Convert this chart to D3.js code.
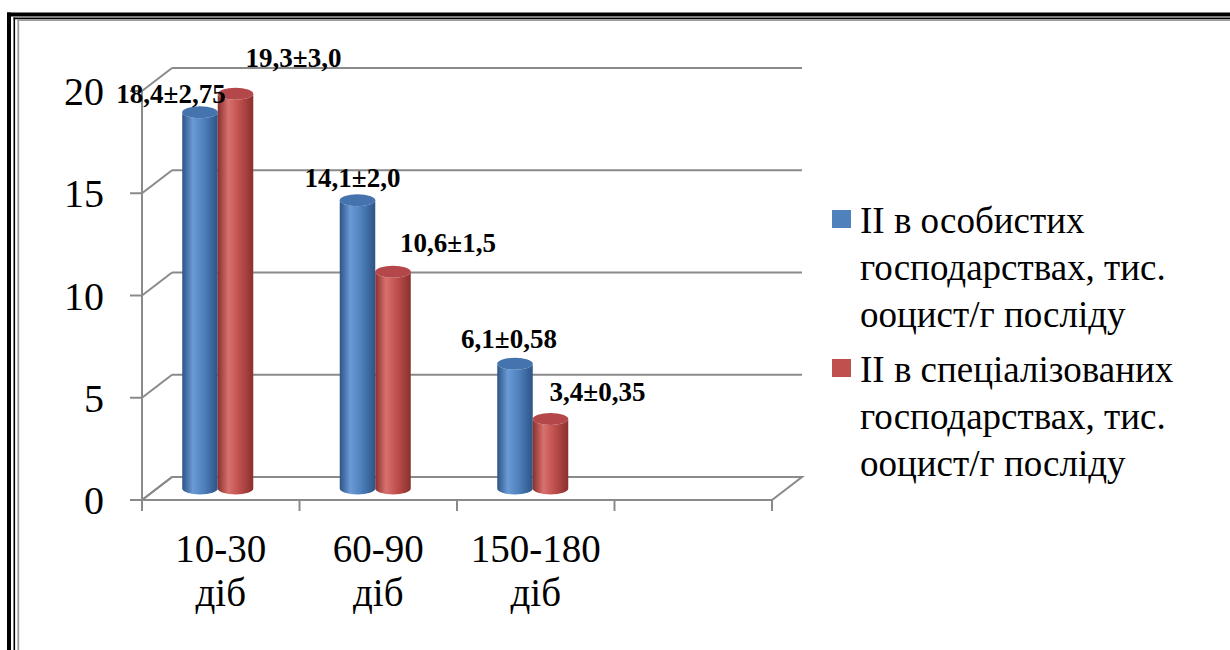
<!DOCTYPE html>
<html>
<head>
<meta charset="utf-8">
<script src="https://cdn.jsdelivr.net/npm/d3@7"></script>
<style>
  html, body { margin: 0; padding: 0; background: #fff; }
  svg { display: block; }
  text { fill: #000; }
</style>
</head>
<body>
<svg id="chart" width="1230" height="650"></svg>
<script>
// Periods of observation (the fourth slot on the axis is left empty)
const categories = ["10-30 діб", "60-90 діб", "150-180 діб", ""];
// Oocyst counts, thousands per gram of droppings
const privateFarms = [18.4, 14.1, 6.1];
const specializedFarms = [19.3, 10.6, 3.4];
// Error values shown in the labels
const privateErr = ["2,75", "2,0", "0,58"];
const specializedErr = ["3,0", "1,5", "0,35"];
const seriesNames = [
  "II в особистих господарствах, тис. ооцист/г посліду",
  "II в спеціалізованих господарствах, тис. ооцист/г посліду"
];
const yTicks = [0, 5, 10, 15, 20];

const FONT = "'Liberation Serif', 'Times New Roman', Tinos, 'DejaVu Serif', serif";
const svg = d3.select("#chart").attr("font-family", FONT);

// ---- page frame (double rule on the left and top) ----
const frame = svg.append("g");
[[7, 12.5, 4], [13.5, 17.6, 1.6]].forEach(([x, y, w]) => {
  frame.append("line").attr("x1", x + w / 2).attr("x2", x + w / 2).attr("y1", y).attr("y2", 650)
    .attr("stroke", "#000").attr("stroke-width", w);
  frame.append("line").attr("x1", x).attr("x2", 1230).attr("y1", y + w / 2).attr("y2", y + w / 2)
    .attr("stroke", "#000").attr("stroke-width", w);
});
frame.append("line").attr("x1", 18.3).attr("x2", 18.3).attr("y1", 19.5).attr("y2", 650)
  .attr("stroke", "#9a9a9a").attr("stroke-width", 1.8);
frame.append("line").attr("x1", 17.4).attr("x2", 1230).attr("y1", 20.2).attr("y2", 20.2)
  .attr("stroke", "#9a9a9a").attr("stroke-width", 1.8);

// ---- scales ----
const depth = { dx: 30, dy: -23 };          // oblique offset from front to back wall
const x = d3.scaleBand().domain(categories).range([142, 772]).paddingInner(0).paddingOuter(0);
const y = d3.scaleLinear().domain([0, 20]).range([500, 91]);
const series = [
  { key: "a", name: seriesNames[0], values: privateFarms, err: privateErr,
    base: "#4f81bd", light: "#6b9ad6", dark: "#2d5486", top: "#4473ad" },
  { key: "b", name: seriesNames[1], values: specializedFarms, err: specializedErr,
    base: "#c0504d", light: "#d8716e", dark: "#8a302e", top: "#b4474a" }
];
const xs = d3.scaleBand().domain(series.map(s => s.key)).range([0, 71]);

const gridColor = "#8a8a8a";
const grid = svg.append("g").attr("stroke", gridColor).attr("stroke-width", 2).attr("fill", "none");

// back wall gridlines and side-wall diagonals
yTicks.forEach(v => {
  const yf = y(v), yb = yf + depth.dy;
  if (v > 0) {
    grid.append("line").attr("x1", 142 + depth.dx).attr("x2", 772 + depth.dx).attr("y1", yb).attr("y2", yb);
  }
  grid.append("line").attr("x1", 142).attr("y1", yf).attr("x2", 142 + depth.dx).attr("y2", yb);
  grid.append("line").attr("x1", 130).attr("x2", 142).attr("y1", yf).attr("y2", yf);
});
// floor
const floorPts = [[142, y(0)], [772, y(0)], [772 + depth.dx, y(0) + depth.dy], [142 + depth.dx, y(0) + depth.dy]];
grid.append("path").attr("d", d3.line()(floorPts) + "Z");
// front vertical axis
grid.append("line").attr("x1", 142).attr("x2", 142).attr("y1", y(20)).attr("y2", y(0) + 11);
// category ticks
const bounds = categories.map(c => x(c)).concat([x.range()[1]]);
bounds.forEach(b => grid.append("line").attr("x1", b).attr("x2", b).attr("y1", y(0)).attr("y2", y(0) + 11));

// ---- y tick labels ----
svg.append("g").selectAll("text").data(yTicks).join("text")
  .attr("x", 104).attr("y", d => y(d)).attr("dy", "0.35em")
  .attr("text-anchor", "end").attr("font-size", 40).text(d => d);

// ---- category labels ----
const catG = svg.append("g");
categories.forEach(c => {
  if (!c) return;
  const parts = c.split(" ");
  const t = catG.append("text").attr("text-anchor", "middle").attr("font-size", 39)
    .attr("x", x(c) + x.bandwidth() / 2).attr("y", 562);
  parts.forEach((p, i) => t.append("tspan").attr("x", x(c) + x.bandwidth() / 2).attr("dy", i ? 44 : 0).text(p));
});

// ---- cylinders ----
const defs = svg.append("defs");
series.forEach(s => {
  const g = defs.append("linearGradient").attr("id", "grad-" + s.key).attr("x1", 0).attr("x2", 1).attr("y1", 0).attr("y2", 0);
  g.append("stop").attr("offset", "0%").attr("stop-color", s.dark);
  g.append("stop").attr("offset", "30%").attr("stop-color", s.light);
  g.append("stop").attr("offset", "60%").attr("stop-color", s.base);
  g.append("stop").attr("offset", "100%").attr("stop-color", s.dark);
});

const barDepth = { dx: -3, dy: -11.5 };     // cylinders sit half way into the floor
const rx = xs.bandwidth() / 2, ry = 6;
const bars = svg.append("g");
categories.slice(0, 3).forEach((c, ci) => {
  series.forEach(s => {
    const cx = x(c) + x.bandwidth() / 2 - 35.5 + barDepth.dx + xs(s.key) + rx;
    const yb = y(0) + barDepth.dy;
    const yt = y(s.values[ci]) + barDepth.dy;
    const d = `M${cx - rx},${yt} L${cx - rx},${yb} A${rx},${ry} 0 0 0 ${cx + rx},${yb} L${cx + rx},${yt} A${rx},${ry} 0 0 1 ${cx - rx},${yt} Z`;
    bars.append("path").attr("d", d).attr("fill", `url(#grad-${s.key})`);
    bars.append("ellipse").attr("cx", cx).attr("cy", yt).attr("rx", rx).attr("ry", ry).attr("fill", s.top);
  });
});

// ---- value labels ----
const labelShift = { a: [[-29, -9], [-5, -13], [-6, -16]], b: [[58, -27], [55, -20], [47, -18]] };
const labels = svg.append("g");
categories.slice(0, 3).forEach((c, ci) => {
  series.forEach(s => {
    const cx = x(c) + x.bandwidth() / 2 - 35.5 + barDepth.dx + xs(s.key) + rx;
    const yt = y(s.values[ci]) + barDepth.dy;
    const [sx, sy] = labelShift[s.key][ci];
    labels.append("text").attr("x", cx + sx).attr("y", yt + sy)
      .attr("text-anchor", "middle").attr("font-size", 27).attr("font-weight", "bold")
      .text(String(s.values[ci]).replace(".", ",") + "±" + s.err[ci]);
  });
});

// ---- legend ----
const legend = svg.append("g");
const legendLines = [
  ["II в особистих", "господарствах, тис.", "ооцист/г посліду"],
  ["II в спеціалізованих", "господарствах, тис.", "ооцист/г посліду"]
];
series.forEach((s, i) => {
  const top = 233 + i * 149;
  legend.append("rect").attr("x", 832).attr("y", top - 23).attr("width", 19).attr("height", 18).attr("fill", s.base);
  const t = legend.append("text").attr("font-size", 37).attr("x", 860).attr("y", top);
  legendLines[i].forEach((ln, j) => t.append("tspan").attr("x", 860).attr("dy", j ? 47 : 0).text(ln));
});
</script>
</body>
</html>
